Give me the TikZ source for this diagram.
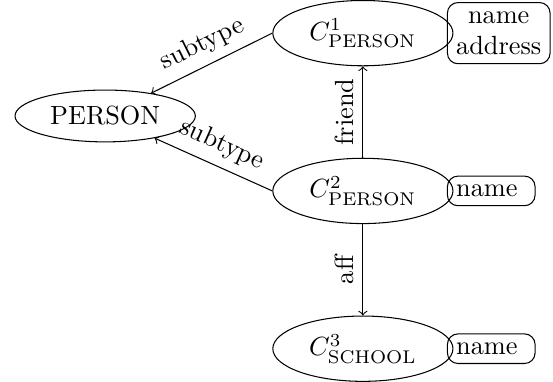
\documentclass[tikz,border=0pt]{standalone}
\usepackage{amsmath}
\usetikzlibrary{positioning, shapes.geometric}

\begin{document}
\begin{tikzpicture}[
  entity/.style={draw, ellipse, minimum width=68.5pt},
  attrs/.style={draw, rounded corners, align=center},
]

\useasboundingbox (-40pt, -100.8pt) rectangle (170.3pt, 44.1pt);

\def\x{98pt}
\def\y{31.5pt}

\node[entity] (person) at (0, 0) {PERSON};

\node[entity] (c1) at (\x, \y) {$C^1_{\mathrm{PERSON}}$};
\node[entity] (c2) at (\x, \y - 60pt) {$C^2_{\mathrm{PERSON}}$};
\node[entity] (c3) at (\x, \y - 120pt) {$C^3_{\mathrm{SCHOOL}}$};

\node[attrs, right=-2.5pt of c1] (c1attr) {name\\address};
\node[attrs, right=-2.5pt of c2] (c2attr) {name\ };
\node[attrs, right=-2.5pt of c3] (c3attr) {name\ };

\draw[->] (c1.west) -- node[sloped, above] {subtype} (person);
\draw[->] (c2.west) -- node[sloped, above] {subtype} (person);
\draw[->] (c2) -- node[sloped, above] {friend} (c1);
\draw[<-] (c3) -- node[sloped, above] {aff} (c2);

\end{tikzpicture}
\end{document}
